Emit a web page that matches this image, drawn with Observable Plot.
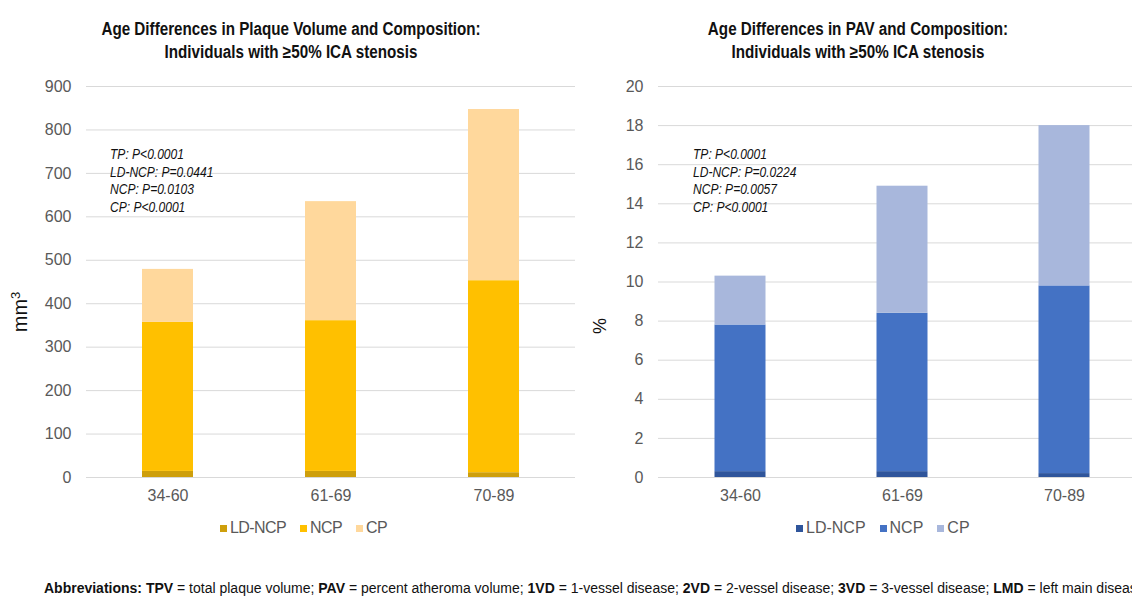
<!DOCTYPE html>
<html>
<head>
<meta charset="utf-8">
<script src="https://cdn.jsdelivr.net/npm/d3@7"></script>
<script src="https://cdn.jsdelivr.net/npm/@observablehq/plot@0.6"></script>
<style>
  html, body { margin: 0; padding: 0; background: #fff; }
  #root { position: relative; width: 1132px; height: 598px; overflow: hidden; background: #fff;
          font-family: "Liberation Sans", Arial, sans-serif; }
  .abs { position: absolute; }
  .title { font-family: "Liberation Sans", Arial, sans-serif;
           font-weight: bold; font-size: 18px; line-height: 23px; text-align: center; color: #111;
           transform: scaleX(0.845); }
  .note { font-family: "Liberation Sans", Arial, sans-serif;
          font-style: italic; font-size: 14px; line-height: 17.7px; color: #111; white-space: nowrap;
          transform: scaleX(0.86); transform-origin: 0 0; }
  .legend { font-size: 16px; color: #595959; white-space: nowrap; display: flex; align-items: center; }
  .legend span.sw { display: inline-block; width: 7px; height: 7px; margin-right: 3px; }
  .legend span.item { display: inline-flex; align-items: center; margin-right: 14px; }
  .ylab { color: #111; white-space: nowrap; transform: translate(-50%, -50%) rotate(-90deg); }
  .footer { font-family: "Liberation Sans", Arial, sans-serif;
            font-size: 14px; color: #111; white-space: nowrap; }
  svg { max-width: none !important; }
</style>
</head>
<body>
<div id="root"></div>
<script>
// ---- data ----
const ages = ["34-60", "61-69", "70-89"];
const series = ["LD-NCP", "NCP", "CP"];

// Left chart: plaque volume (mm³), stacked segment heights
const volLD  = [14, 14, 11];
const volNCP = [343, 347, 442];
const volCP  = [122, 274, 394];
const volTicks = [0, 100, 200, 300, 400, 500, 600, 700, 800, 900];

// Right chart: PAV (%), stacked segment heights
const pavLD  = [0.3, 0.3, 0.2];
const pavNCP = [7.5, 8.1, 9.6];
const pavCP  = [2.5, 6.5, 8.2];
const pavTicks = [0, 2, 4, 6, 8, 10, 12, 14, 16, 18, 20];

const volColors = ["#CE9F0C", "#FFC000", "#FFD89C"];
const pavColors = ["#2F559B", "#4472C4", "#A8B7DC"];

const volNotes = ["TP: P<0.0001", "LD-NCP: P=0.0441", "NCP: P=0.0103", "CP: P<0.0001"];
const pavNotes = ["TP: P<0.0001", "LD-NCP: P=0.0224", "NCP: P=0.0057", "CP: P<0.0001"];

const titleLeft = ["Age Differences in Plaque Volume and Composition:", "Individuals with ≥50% ICA stenosis"];
const titleRight = ["Age  Differences in PAV and Composition:", "Individuals with ≥50% ICA stenosis"];

// ---- helpers ----
const root = document.getElementById("root");
function add(html, cls, style) {
  const d = document.createElement("div");
  d.className = "abs " + (cls || "");
  Object.assign(d.style, style);
  d.innerHTML = html;
  root.appendChild(d);
  return d;
}
function esc(s) { return s.replace(/&/g, "&amp;").replace(/</g, "&lt;").replace(/>/g, "&gt;"); }

function chart({values, colors, ticks, width, marginLeft, marginRight, inset}) {
  const data = [];
  ages.forEach((a, i) => series.forEach((s, j) => data.push({age: a, series: s, value: values[j][i]})));
  return Plot.plot({
    width, height: 440,
    marginTop: 10, marginBottom: 39, marginLeft, marginRight,
    style: {fontFamily: "'Liberation Sans', Arial, sans-serif", fontSize: "16px", color: "#595959",
            background: "transparent", overflow: "visible", maxWidth: "none"},
    x: {domain: ages, padding: 0, label: null},
    y: {domain: [ticks[0], ticks[ticks.length - 1]], label: null},
    color: {domain: series, range: colors},
    marks: [
      Plot.gridY(ticks, {stroke: "#d9d9d9", strokeOpacity: 1, strokeWidth: 1}),
      Plot.barY(data, {x: "age", y: "value", fill: "series", order: series, insetLeft: inset, insetRight: inset}),
      Plot.axisX({tickSize: 0, tickPadding: 12, label: null}),
      Plot.axisY(ticks, {tickSize: 0, tickPadding: 15, label: null})
    ]
  });
}

// ---- titles ----
add(titleLeft.map(esc).join("<br>"), "title", {left: "0px", width: "582px", top: "18px"});
add(titleRight.map(esc).join("<br>"), "title", {left: "584px", width: "548px", top: "18px"});

// ---- charts ----
const left = add("", "", {left: "0px", top: "76px", width: "600px", height: "440px"});
left.appendChild(chart({values: [volLD, volNCP, volCP], colors: volColors, ticks: volTicks,
  width: 600, marginLeft: 86, marginRight: 25, inset: 56}));
const right = add("", "", {left: "580px", top: "76px", width: "570px", height: "440px"});
right.appendChild(chart({values: [pavLD, pavNCP, pavCP], colors: pavColors, ticks: pavTicks,
  width: 570, marginLeft: 78, marginRight: 5, inset: 55.5}));

// ---- annotations ----
add(volNotes.map(esc).join("<br>"), "note", {left: "110px", top: "146px"});
add(pavNotes.map(esc).join("<br>"), "note", {left: "693px", top: "146px"});

// ---- y labels ----
add("mm<sup style='font-size:13px'>3</sup>", "ylab", {left: "20px", top: "312px", fontSize: "20px"});
add("%", "ylab", {left: "600px", top: "326px", fontSize: "18px"});

// ---- legends ----
function legend(colors, x, spacing) {
  const html = series.map((s, i) =>
    `<span class="item"><span class="sw" style="background:${colors[i]}"></span>${s}</span>`).join("");
  add(html, "legend", {left: x + "px", top: "518px", height: "20px", letterSpacing: spacing});
}
legend(volColors, 220, "-0.6px");
legend(pavColors, 796, "0px");

// ---- footer (cut at the right edge, as in the reference) ----
add("<b>Abbreviations: TPV</b> = total plaque volume; <b>PAV</b> = percent atheroma volume; <b>1VD</b> = 1-vessel disease; <b>2VD</b> = 2-vessel disease; <b>3VD</b> = 3-vessel disease; <b>LMD</b> = left main disease",
  "footer", {left: "44px", top: "580px"});
</script>
</body>
</html>
